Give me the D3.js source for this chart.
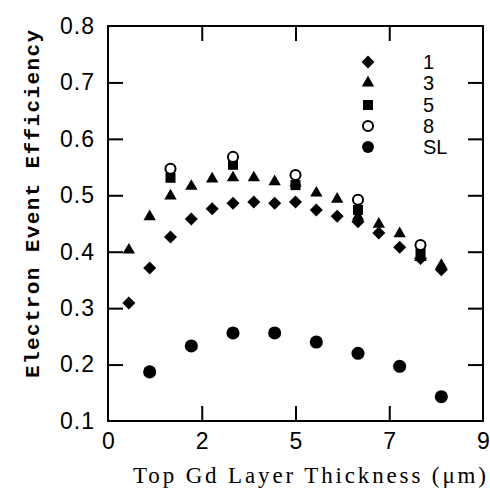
<!DOCTYPE html>
<html><head><meta charset="utf-8">
<script src="https://cdn.jsdelivr.net/npm/d3@7"></script>
<style>html,body{margin:0;padding:0;background:#fff;}</style>
</head><body>
<svg id="c" width="490" height="488"></svg>
<script>
const xs1 = [0.5,1.0,1.5,2.0,2.5,3.0,3.5,4.0,4.5,5.0,5.5,6.0,6.5,7.0,7.5,8.0];
const s1 = [0.309,0.371,0.426,0.458,0.476,0.486,0.488,0.486,0.488,0.474,0.463,0.453,0.433,0.408,0.388,0.368];
const s3 = [0.403,0.462,0.499,0.516,0.529,0.531,0.531,0.524,0.522,0.504,0.493,0.462,0.449,0.432,0.390,0.376];
const xs5 = [1.5,3.0,4.5,6.0,7.5];
const s5 = [0.531,0.554,0.518,0.474,0.398];
const s8 = [0.547,0.568,0.536,0.492,0.412];
const xsSL = [1.0,2.0,3.0,4.0,5.0,6.0,7.0,8.0];
const sSL = [0.187,0.233,0.256,0.256,0.240,0.220,0.197,0.143];
const xTickVals = [0,2.25,4.5,6.75,9];
const xTickLabels = ["0","2","5","7","9"];
const yTickVals = [0.1,0.2,0.3,0.4,0.5,0.6,0.7,0.8];
const legendLabels = ["1","3","5","8","SL"];

const svg = d3.select("#c");
const L=108, R=483, T=26, B=421;
const x = d3.scaleLinear().domain([0,9]).range([L,R]);
const y = d3.scaleLinear().domain([0.1,0.8]).range([B,T]);

// frame
svg.append("rect").attr("x",L).attr("y",T).attr("width",R-L).attr("height",B-T)
  .attr("fill","none").attr("stroke","#000").attr("stroke-width",2);

const tl = 15;
const gx = svg.append("g").attr("transform",`translate(0,${B})`)
  .call(d3.axisBottom(x).tickValues(xTickVals).tickSize(-tl).tickPadding(12)
    .tickFormat((d,i)=>xTickLabels[i]));
const gxt = svg.append("g").attr("transform",`translate(0,${T})`)
  .call(d3.axisTop(x).tickValues(xTickVals.slice(1,-1)).tickSize(-tl).tickFormat(""));
const gy = svg.append("g").attr("transform",`translate(${L},0)`)
  .call(d3.axisLeft(y).tickValues(yTickVals).tickSize(-tl).tickPadding(13)
    .tickFormat(d3.format(".1f")));
const gyr = svg.append("g").attr("transform",`translate(${R},0)`)
  .call(d3.axisRight(y).tickValues(yTickVals.slice(1,-1)).tickSize(-tl).tickFormat(""));
[gx,gxt,gy,gyr].forEach(g=>{
  g.select(".domain").remove();
  g.selectAll(".tick line").attr("stroke","#000").attr("stroke-width",2);
  g.selectAll("text").attr("font-family","Liberation Sans, Arial, sans-serif")
    .attr("font-size",23).attr("fill","#000");
});
gy.selectAll(".tick text").attr("letter-spacing",1);
gx.selectAll(".tick text").attr("dy","0.71em");
gx.selectAll(".tick").filter(d=>d===0||d===9).select("line").remove();
gy.selectAll(".tick").filter(d=>d===0.1||d===0.8).select("line").remove();

// titles
svg.append("text").attr("x",133).attr("y",483)
  .attr("font-family","Liberation Serif, Times New Roman, serif").attr("font-size",23)
  .attr("textLength",353).attr("lengthAdjust","spacing")
  .text("Top Gd Layer Thickness (μm)");
svg.append("text").attr("transform","translate(39,378) rotate(-90)")
  .attr("font-family","Liberation Mono, Courier New, monospace").attr("font-weight","bold")
  .attr("font-size",21).attr("textLength",348).attr("lengthAdjust","spacing")
  .text("Electron Event Efficiency");

// symbols
const diamond = (r)=>`M0,${-r}L${r},0L0,${r}L${-r},0Z`;
const tri = d3.symbol().type(d3.symbolTriangle).size(66)();
const sq = d3.symbol().type(d3.symbolSquare).size(100)();
const circSmall = d3.symbol().type(d3.symbolCircle).size(80)();
const circBig = d3.symbol().type(d3.symbolCircle).size(135)();

const series = [
  {xs:xs1, ys:s1, path:diamond(6.5), fill:"#000", stroke:"none", sw:0},
  {xs:xs1, ys:s3, path:tri, fill:"#000", stroke:"none", sw:0},
  {xs:xs5, ys:s5, path:sq, fill:"#000", stroke:"none", sw:0},
  {xs:xs5, ys:s8, path:circSmall, fill:"#fff", stroke:"#000", sw:2},
  {xs:xsSL, ys:sSL, path:circBig, fill:"#000", stroke:"none", sw:0}
];
series.forEach(s=>{
  svg.append("g").selectAll("path").data(s.ys).join("path")
    .attr("transform",(d,i)=>`translate(${x(s.xs[i])},${y(d)})`)
    .attr("d",s.path).attr("fill",s.fill).attr("stroke",s.stroke).attr("stroke-width",s.sw);
});

// legend
const legY = [62,83,105,126,147];
const lg = svg.append("g");
series.forEach((s,i)=>{
  lg.append("path").attr("transform",`translate(368,${legY[i]})`)
    .attr("d", i===4 ? d3.symbol().type(d3.symbolCircle).size(110)() : s.path)
    .attr("fill",s.fill).attr("stroke",s.stroke).attr("stroke-width",s.sw);
  lg.append("text").attr("x",423).attr("y",legY[i]).attr("dy","0.36em")
    .attr("font-family","Liberation Sans, Arial, sans-serif").attr("font-size",20)
    .text(legendLabels[i]);
});
</script>
</body></html>
